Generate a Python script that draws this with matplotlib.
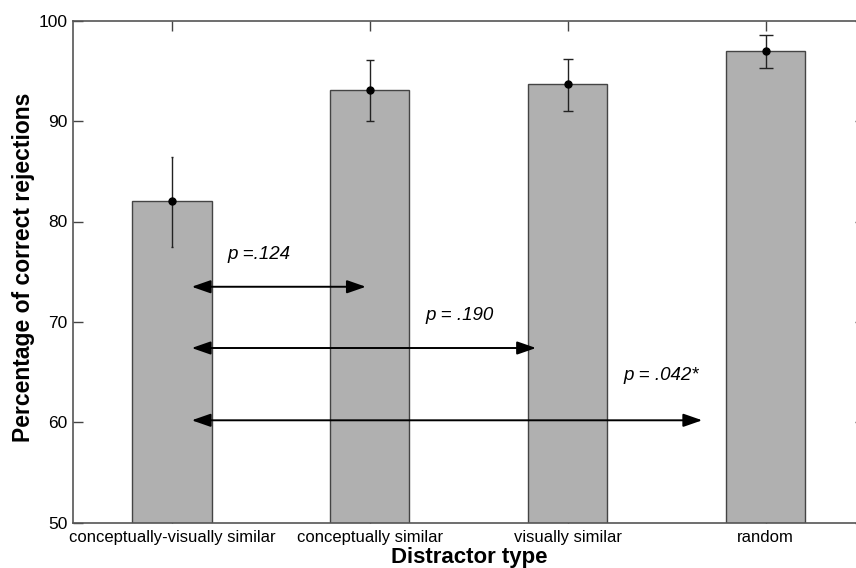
import matplotlib
matplotlib.use("Agg")
import matplotlib.pyplot as plt

plt.rcParams['font.family'] = ['Liberation Sans', 'DejaVu Sans']

categories = ["conceptually-visually similar", "conceptually similar", "visually similar", "random"]
means = [82.0, 93.1, 93.7, 97.0]
err_low = [77.5, 90.0, 91.0, 95.25]
err_high = [86.4, 96.1, 96.2, 98.6]
caps = [0.8, 2.6, 3.6, 5.3]

# comparisons: (start, end, y, label, label_x, label_y)
comparisons = [
    (1.10, 1.98, 73.5, "p =.124", 1.28, 76.7),
    (1.10, 2.84, 67.4, "p = .190", 2.28, 70.6),
    (1.10, 3.68, 60.2, "p = .042*", 3.28, 64.7),
]

fig = plt.figure(figsize=(8.56, 5.68), dpi=100)
ax = fig.add_axes([73 / 856, 1 - 522.7 / 568, (864.5 - 73) / 856, (522.7 - 20.7) / 568])

x = list(range(1, len(categories) + 1))
ax.bar(x, means, width=0.4, color="#b0b0b0", edgecolor="#444444", linewidth=1.0, zorder=2)
for xi, m, lo, hi, c in zip(x, means, err_low, err_high, caps):
    ax.errorbar(xi, m, yerr=[[m - lo], [hi - m]], fmt="o", color="black", ms=5,
                ecolor="#222222", elinewidth=1.0, capsize=c, capthick=1.0, zorder=3)

for x0, x1, yy, lab, lx, ly in comparisons:
    ax.annotate("", xy=(x1, yy), xytext=(x0, yy),
                arrowprops=dict(arrowstyle="<|-|>,head_length=1.15,head_width=0.4",
                                color="black", lw=1.4, shrinkA=0, shrinkB=0), zorder=4)
    ax.text(lx, ly, lab, fontsize=13.5, style="italic", ha="left", va="center", zorder=4)

ax.set_xlim(0.5, 4.5)
ax.set_ylim(50, 100)
ax.set_xticks(x)
ax.set_xticklabels(categories, fontsize=12)
ax.set_yticks([50, 60, 70, 80, 90, 100])
ax.tick_params(axis="both", direction="in", length=7, width=1, colors="#444444",
               labelcolor="black", top=True, right=True)
ax.tick_params(axis="x", pad=5)
ax.tick_params(axis="y", labelsize=12.5, pad=4)
for s in ax.spines.values():
    s.set_color("#555555")
    s.set_linewidth(1.2)

ax.set_xlabel("Distractor type", fontsize=16, fontweight="bold")
ax.xaxis.set_label_coords(0.501, -0.048)
ax.set_ylabel("Percentage of correct rejections", fontsize=16.5, fontweight="bold")
ax.yaxis.set_label_coords(-0.062, 0.508)
ax.yaxis.label.set_va("center")

fig.savefig("out.png", dpi=100)
